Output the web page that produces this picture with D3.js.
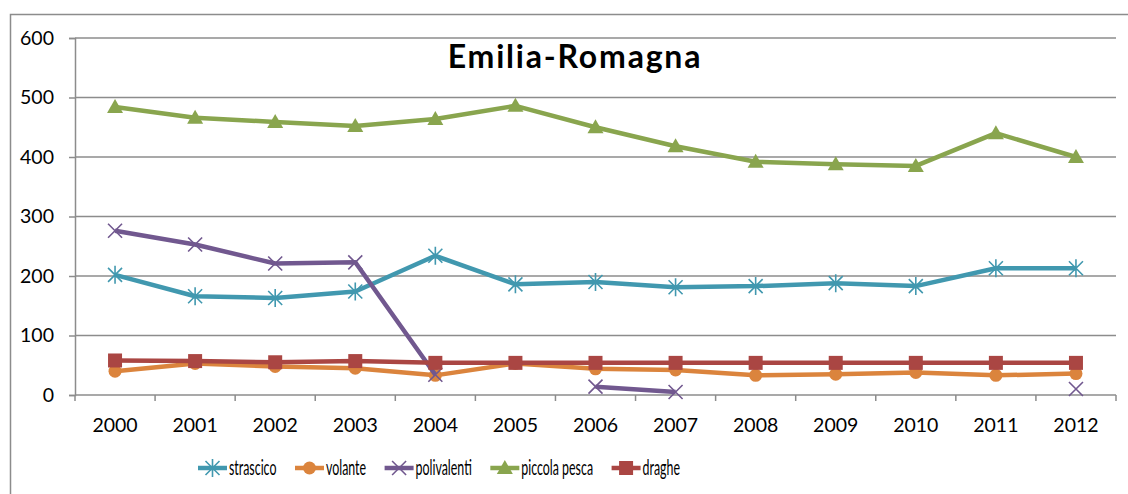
<!DOCTYPE html>
<html>
<head>
<meta charset="utf-8">
<script src="https://cdn.jsdelivr.net/npm/d3@7"></script>
<style>
  body { margin: 0; background: #fff; }
  svg { display: block; font-family: Lato, "Open Sans", sans-serif; }
</style>
</head>
<body>
<svg id="chart"></svg>
<script>
const years = ["2000","2001","2002","2003","2004","2005","2006","2007","2008","2009","2010","2011","2012"];
const strascico = [202, 166, 163, 174, 234, 186, 190, 181, 183, 188, 183, 213, 213];
const volante = [40, 53, 48, 45, 33, 53, 44, 42, 33, 35, 38, 33, 36];
const polivalenti = [276, 253, 221, 223, 34, null, 14, 5, null, null, null, null, 10];
const piccolaPesca = [484, 466, 459, 452, 464, 486, 450, 418, 392, 388, 385, 440, 400];
const draghe = [58, 57, 55, 57, 54, 54, 54, 54, 54, 54, 54, 54, 54];
const yTicks = [0, 100, 200, 300, 400, 500, 600];

const series = [
    { name: "strascico", values: strascico, color: "#4198af", marker: "star" },
    { name: "volante", values: volante, color: "#db843d", marker: "circle" },
    { name: "polivalenti", values: polivalenti, color: "#71588f", marker: "x" },
    { name: "piccola pesca", values: piccolaPesca, color: "#89a54e", marker: "triangle" },
    { name: "draghe", values: draghe, color: "#aa4643", marker: "square" }
];

const width = 1128, height = 494;
const margin = { top: 38, right: 12, bottom: 99, left: 75 };
const innerW = width - margin.left - margin.right;
const innerH = height - margin.top - margin.bottom;

const svg = d3.select("#chart").attr("width", width).attr("height", height);

// outer frame (continues past the window on right and bottom)
svg.append("rect")
    .attr("x", 10.5).attr("y", 14.5)
    .attr("width", width + 20).attr("height", height + 20)
    .attr("fill", "none").attr("stroke", "#8c8c8c").attr("stroke-width", 1.5);

const g = svg.append("g").attr("transform", `translate(${margin.left},${margin.top})`);

const x = d3.scaleBand().domain(years).range([0, innerW]);
const y = d3.scaleLinear().domain([0, 600]).range([innerH, 0]);

// gridlines
g.append("g")
    .selectAll("line")
    .data(yTicks.filter(t => t > 0))
    .join("line")
    .attr("x1", 0).attr("x2", innerW)
    .attr("y1", d => y(d)).attr("y2", d => y(d))
    .attr("stroke", "#8c8c8c").attr("stroke-width", 1.5);

// y axis
const yAxis = g.append("g")
    .call(d3.axisLeft(y).tickValues(yTicks).tickSize(6).tickPadding(15));
yAxis.select(".domain").attr("stroke", "#8c8c8c").attr("stroke-width", 1.5);
yAxis.selectAll(".tick line").attr("stroke", "#8c8c8c").attr("stroke-width", 1.5);
yAxis.selectAll("text").attr("font-size", 19.5).attr("fill", "#000").attr("font-family", "Lato");

// x axis with ticks between categories
const xAxis = g.append("g").attr("transform", `translate(0,${innerH})`);
xAxis.append("line")
    .attr("x1", 0).attr("x2", innerW)
    .attr("stroke", "#8c8c8c").attr("stroke-width", 1.5);
xAxis.selectAll("line.tk")
    .data(years.map(yr => x(yr)).concat([innerW]))
    .join("line")
    .attr("class", "tk")
    .attr("x1", d => d).attr("x2", d => d)
    .attr("y1", 0).attr("y2", 6)
    .attr("stroke", "#8c8c8c").attr("stroke-width", 1.5);
xAxis.selectAll("text")
    .data(years)
    .join("text")
    .attr("x", d => x(d) + x.bandwidth() / 2)
    .attr("y", 37)
    .attr("text-anchor", "middle")
    .attr("font-size", 19.5)
    .text(d => d);

// title
svg.append("text")
    .attr("x", 575).attr("y", 68)
    .attr("text-anchor", "middle")
    .attr("font-size", 32).attr("font-weight", "bold")
    .attr("letter-spacing", 1.8)
    .text("Emilia-Romagna");

const cx = i => x(years[i]) + x.bandwidth() / 2;

function drawMarker(sel, type, color) {
    if (type === "circle") {
        sel.append("circle").attr("r", 6.5).attr("fill", color);
    } else if (type === "square") {
        sel.append("rect").attr("x", -7).attr("y", -7).attr("width", 14).attr("height", 14).attr("fill", color);
    } else if (type === "triangle") {
        sel.append("path").attr("d", "M0,-8L8,6L-8,6Z").attr("fill", color);
    } else if (type === "x") {
        sel.append("path").attr("d", "M-7,-7L7,7M-7,7L7,-7")
            .attr("stroke", color).attr("stroke-width", 1.6).attr("fill", "none");
    } else if (type === "star") {
        sel.append("path").attr("d", "M-7,-7L7,7M-7,7L7,-7M0,-9V9")
            .attr("stroke", color).attr("stroke-width", 1.6).attr("fill", "none");
    }
}

const line = d3.line()
    .defined(d => d != null)
    .x((d, i) => cx(i))
    .y(d => y(d));

series.forEach(s => {
    const sg = g.append("g");
    sg.append("path")
        .attr("d", line(s.values))
        .attr("fill", "none")
        .attr("stroke", s.color)
        .attr("stroke-width", 4.5)
        .attr("stroke-linejoin", "round");
    s.values.forEach((v, i) => {
        if (v == null) return;
        const m = sg.append("g").attr("transform", `translate(${cx(i)},${y(v)})`);
        drawMarker(m, s.marker, s.color);
    });
});

// legend: squeezed text, spread over the same span as the original
const legendLeft = 198, legendRight = 680, lineW = 29, textOff = 31, gap = 18.5;
const legend = svg.append("g").attr("transform", "translate(0,468)");
const items = legend.selectAll("g.item")
    .data(series)
    .join("g")
    .attr("class", "item");
items.append("line")
    .attr("x1", 0).attr("x2", lineW)
    .attr("stroke", d => d.color).attr("stroke-width", 4.5);
items.each(function(d) {
    const m = d3.select(this).append("g").attr("transform", `translate(${lineW / 2},0)`);
    drawMarker(m, d.marker, d.color);
});
const labels = items.append("g").attr("class", "lbl");
labels.append("text")
    .attr("y", 7)
    .attr("font-size", 21)
    .text(d => d.name);

const tw = [];
labels.each(function() { tw.push(d3.select(this).select("text").node().getComputedTextLength()); });
const sx = (legendRight - legendLeft - series.length * textOff - gap * (series.length - 1)) / d3.sum(tw);
labels.attr("transform", `translate(${textOff},0) scale(${sx},1)`);
let pos = legendLeft;
items.attr("transform", (d, i) => {
    const t = `translate(${pos},0)`;
    pos += textOff + tw[i] * sx + gap;
    return t;
});
</script>
</body>
</html>
